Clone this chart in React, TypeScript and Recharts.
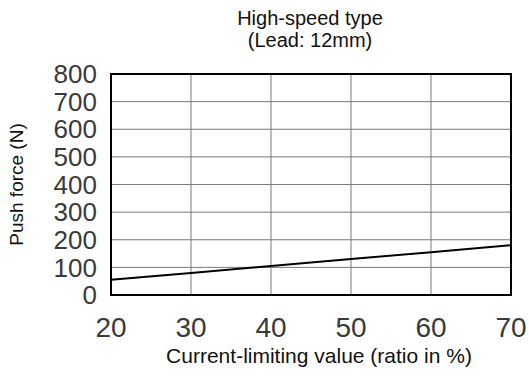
import { LineChart, Line, XAxis, YAxis, CartesianGrid, ReferenceArea, Label } from 'recharts'

const ratio = [20, 30, 40, 50, 60, 70]
const pushForce = [55, 80, 105, 130, 155, 180]
const xTicks = [20, 30, 40, 50, 60, 70]
const yTicks = [0, 100, 200, 300, 400, 500, 600, 700, 800]

const data = ratio.map((r, i) => ({ ratio: r, force: pushForce[i] }))

const font = '"Liberation Sans", Arial, sans-serif'

export default function App() {
  return (
    <div style={{ position: 'absolute', left: 0, top: 0, width: 529, height: 376, background: '#fff', fontFamily: font }}>
      <div style={{ position: 'absolute', left: 190, width: 240, top: 7, textAlign: 'center', fontSize: 20, lineHeight: '22px', color: '#111' }}>
        High-speed type<br />(Lead: 12mm)
      </div>
      <LineChart width={529} height={376} data={data} margin={{ top: 74, right: 18, bottom: 0, left: 0 }}>
        <CartesianGrid stroke="#7a7a7a" strokeWidth={1} />
        <XAxis
          dataKey="ratio"
          type="number"
          domain={[20, 70]}
          ticks={xTicks}
          height={81}
          axisLine={false}
          tickLine={false}
          tickSize={0}
          tickMargin={22}
          tick={{ fontSize: 28, fill: '#3a3a3a', fontFamily: font }}
        >
          <Label value="Current-limiting value (ratio in %)" position="insideBottom" offset={13} dx={8} style={{ fontSize: 21, fill: '#111', fontFamily: font }} />
        </XAxis>
        <YAxis
          type="number"
          domain={[0, 800]}
          ticks={yTicks}
          width={111}
          axisLine={false}
          tickLine={false}
          tickSize={0}
          tickMargin={14}
          interval={0}
          tick={{ fontSize: 26, fill: '#3a3a3a', fontFamily: font }}
        >
          <Label value="Push force (N)" angle={-90} position="insideLeft" offset={16} style={{ fontSize: 19, fill: '#111', fontFamily: font, textAnchor: 'middle' }} />
        </YAxis>
        <ReferenceArea x1={20} x2={70} y1={0} y2={800} fill="none" stroke="#000" strokeWidth={2} />
        <Line dataKey="force" stroke="#000" strokeWidth={2} dot={false} isAnimationActive={false} />
      </LineChart>
    </div>
  )
}
